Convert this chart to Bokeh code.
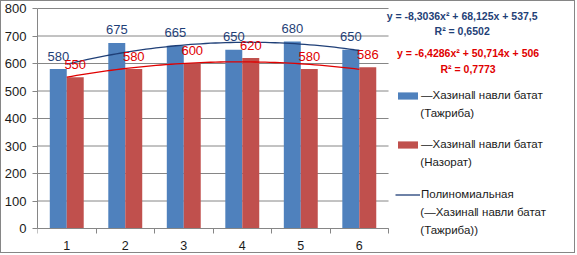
import numpy as np
from bokeh.plotting import figure
from bokeh.models import (ColumnDataSource, FixedTicker, Label, Legend, LegendItem,
                          CustomJSTickFormatter, Range1d)
from bokeh.embed import file_html
from bokeh.resources import INLINE
from bokeh.core.properties import value

# ---- data ----
categories = ["1", "2", "3", "4", "5", "6"]
tajriba = [580, 675, 665, 650, 680, 650]
nazorat = [550, 580, 600, 620, 580, 586]
trend_blue = [-8.3036, 68.125, 537.5]     # y = a x^2 + b x + c
trend_red = [-6.4286, 50.714, 506.0]
y_ticks = [0, 100, 200, 300, 400, 500, 600, 700, 800]
series_names = [
    ["\u2014\u0425\u0430\u0437\u0438\u043d\u0430\u2016 \u043d\u0430\u0432\u043b\u0438 \u0431\u0430\u0442\u0430\u0442",
     "(\u0422\u0430\u0436\u0440\u0438\u0431\u0430)"],
    ["\u2014\u0425\u0430\u0437\u0438\u043d\u0430\u2016 \u043d\u0430\u0432\u043b\u0438 \u0431\u0430\u0442\u0430\u0442",
     "(\u041d\u0430\u0437\u043e\u0440\u0430\u0442)"],
    ["\u041f\u043e\u043b\u0438\u043d\u043e\u043c\u0438\u0430\u043b\u044c\u043d\u0430\u044f",
     "(\u2014\u0425\u0430\u0437\u0438\u043d\u0430\u2016 \u043d\u0430\u0432\u043b\u0438 \u0431\u0430\u0442\u0430\u0442",
     "(\u0422\u0430\u0436\u0440\u0438\u0431\u0430))"],
]
eq_blue = ["y = -8,3036x\u00b2 + 68,125x + 537,5", "R\u00b2 = 0,6502"]
eq_red = ["y = -6,4286x\u00b2 + 50,714x + 506", "R\u00b2 = 0,7773"]

FONT = "Liberation Sans"
BLUE = "#4F81BD"
RED = "#C0504D"
NAVY = "#1F3F77"
TRED = "#E00000"
GRID = "#868686"
TXT = "#1a1a1a"

# layout geometry (pixels, outer image coordinates)
AX_L, AX_R, AX_TOP, AX_BOT = 34, 387, 8, 228
W, H = 575, 253
PXU = (AX_R - AX_L) / 6.0           # pixels per category
PXV = (AX_BOT - AX_TOP) / 800.0     # pixels per value unit
FRAME_BOT = H + 1                   # frame bottom, outer pixels

def dx(px):
    return 0.5 + (px - AX_L) / PXU

def dy(py):
    return (AX_BOT - py) / PXV

x = np.arange(1, len(categories) + 1)
src = ColumnDataSource(dict(
    xb=x - 0.145, xr=x + 0.145,
    tb=tajriba, nr=nazorat,
    lb=[str(v) for v in tajriba], lr=[str(v) for v in nazorat]))

p = figure(width=W, height=H, output_backend="svg", toolbar_location=None,
           x_range=Range1d(0.5, dx(W + 1)), y_range=Range1d(dy(FRAME_BOT), dy(1)),
           min_border_left=AX_L - 1, min_border_right=0, min_border_top=0,
           min_border_bottom=0)
p.styles = {"border": "1px solid #868686"}
p.outline_line_color = None
p.background_fill_color = "white"
p.border_fill_color = "white"

# grid lines (limited to plot area)
p.segment(x0=[0.5] * len(y_ticks), x1=[6.5] * len(y_ticks), y0=y_ticks, y1=y_ticks,
          line_color=GRID, line_width=1)

# bars
rb = p.vbar(x="xb", top="tb", width=0.29, source=src, fill_color=BLUE, line_color=None)
rr = p.vbar(x="xr", top="nr", width=0.29, source=src, fill_color=RED, line_color=None)

# trend lines
xs = np.linspace(1, 6, 60)
yb = trend_blue[0] * xs**2 + trend_blue[1] * xs + trend_blue[2]
yr = trend_red[0] * xs**2 + trend_red[1] * xs + trend_red[2]
rl = p.line(xs, yb, line_color=NAVY, line_width=1.3)
p.line(xs, yr, line_color=TRED, line_width=1.3)

# data labels
p.text(x="xb", y="tb", text="lb", source=src, text_align="center", text_baseline="middle",
       y_offset=-13, text_font=value(FONT), text_font_size="13px", text_color=NAVY)
p.text(x="xr", y="nr", text="lr", source=src, text_align="center", text_baseline="middle",
       y_offset=-13, text_font=value(FONT), text_font_size="13px", text_color=TRED)

# axes
p.yaxis.bounds = (0, 800)
p.yaxis.ticker = FixedTicker(ticks=y_ticks)
p.yaxis.axis_line_color = GRID
p.yaxis.major_tick_line_color = GRID
p.yaxis.major_tick_out = 5
p.yaxis.major_tick_in = 0
p.yaxis.minor_tick_line_color = None
p.yaxis.major_label_text_font = FONT
p.yaxis.major_label_text_font_size = "13px"
p.yaxis.major_label_text_color = TXT
p.yaxis.major_label_standoff = 6

p.xaxis.fixed_location = 0
p.xaxis.bounds = (0.5, 6.5)
p.xaxis.ticker = FixedTicker(ticks=list(x), minor_ticks=[i + 0.5 for i in range(0, 7)])
p.xaxis.formatter = CustomJSTickFormatter(args=dict(labels=categories),
                                          code="return labels[Math.round(tick) - 1];")
p.xaxis.axis_line_color = GRID
p.xaxis.major_tick_line_color = None
p.xaxis.minor_tick_line_color = GRID
p.xaxis.minor_tick_out = 5
p.xaxis.minor_tick_in = 0
p.xaxis.major_label_text_font = FONT
p.xaxis.major_label_text_font_size = "12.5px"
p.xaxis.major_label_text_color = TXT
p.xaxis.major_label_standoff = 6

p.xgrid.grid_line_color = None
p.ygrid.grid_line_color = None

# equations
for i, t in enumerate(eq_blue):
    p.add_layout(Label(x=dx(461), y=dy(15 + 15 * i), text=t,
                       text_align="center", text_baseline="middle", text_font=FONT,
                       text_font_size="10.5px", text_font_style="bold", text_color=NAVY))
for i, t in enumerate(eq_red):
    p.add_layout(Label(x=dx(467), y=dy(52 + 16 * i), text=t,
                       text_align="center", text_baseline="middle", text_font=FONT,
                       text_font_size="10.5px", text_font_style="bold", text_color=TRED))

# legend: one entry per series, continuation lines as labels
renderers = [rb, rr, rl]
item_tops = [95, 144, 194]       # centre of the first text line of each entry
LINE = 17.5
for r, names, cy in zip(renderers, series_names, item_tops):
    lg = Legend(items=[LegendItem(label=names[0], renderers=[r])],
                location=(392 - AX_L, FRAME_BOT - (cy + 7)), padding=0, margin=0, spacing=0,
                glyph_width=25, glyph_height=9, label_height=14, label_standoff=1,
                label_text_font=FONT, label_text_font_size="11.5px", label_text_color=TXT,
                border_line_color=None, background_fill_alpha=0)
    p.add_layout(lg)
    for k, extra in enumerate(names[1:]):
        p.add_layout(Label(x=dx(419), y=dy(cy + LINE * (k + 1)), text=extra,
                           text_align="left", text_baseline="middle", text_font=FONT,
                           text_font_size="11.5px", text_color=TXT))

open("out.html", "w").write(file_html(p, INLINE))
